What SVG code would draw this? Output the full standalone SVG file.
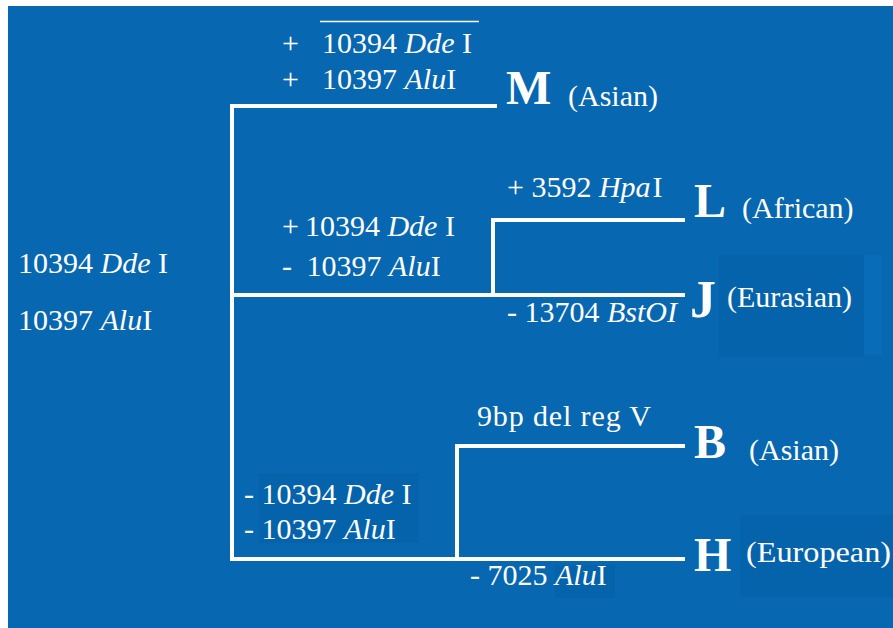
<svg xmlns="http://www.w3.org/2000/svg" width="893" height="628" viewBox="0 0 893 628">
<defs>
<style>
.ln{fill:none;stroke:#ffffff;stroke-width:4;stroke-linecap:square;stroke-linejoin:miter}
.patch{fill:#0563AB}
</style>
</defs>
<rect x="0" y="0" width="893" height="628" fill="#ffffff"/>
<rect x="8" y="6" width="885" height="622" fill="#0767B1"/>
<rect class="patch" x="719" y="255" width="145" height="102"/>
<rect x="864" y="255" width="18" height="100" fill="#096CB8"/>
<rect class="patch" x="259" y="473" width="160" height="70"/>
<rect class="patch" x="740" y="515" width="153" height="82"/>
<rect class="patch" x="555" y="565" width="60" height="33"/>

<g id="connectors">
<path class="ln" d="M495,106 H232 V559 H683"/>
<path class="ln" d="M232,295 H683"/>
<path class="ln" d="M493,295 V220 H683"/>
<path class="ln" d="M457,559 V446 H683"/>
<line x1="320" y1="21.5" x2="479" y2="21.5" stroke="#ffffff" stroke-width="1.5"/>
</g>

<g id="root-labels" font-family="Liberation Serif" font-size="30" fill="#ffffff">
<text x="18" y="273">10394 <tspan font-style="italic">Dde</tspan> I</text>
<text x="18" y="330">10397 <tspan font-style="italic">Alu</tspan>I</text>
</g>

<g id="edge-labels" font-family="Liberation Serif" font-size="30" fill="#ffffff">
<text x="282" y="53">+</text>
<text x="322" y="53">10394 <tspan font-style="italic">Dde</tspan> I</text>
<text x="282" y="89">+</text>
<text x="322" y="89">10397 <tspan font-style="italic">Alu</tspan>I</text>
<text x="282" y="236">+<tspan dx="6">10394 </tspan><tspan font-style="italic">Dde</tspan> I</text>
<text x="282" y="276">- <tspan dx="7">10397 </tspan><tspan font-style="italic">Alu</tspan>I</text>
<text x="507" y="197">+ 3592 <tspan font-style="italic">Hpa</tspan><tspan dx="2">I</tspan></text>
<text x="507" y="322">- 13704 <tspan font-style="italic">BstOI</tspan></text>
<text x="477" y="426" textLength="174" lengthAdjust="spacing">9bp del reg V</text>
<text x="244" y="504">- 10394 <tspan font-style="italic">Dde</tspan> I</text>
<text x="244" y="539">- 10397 <tspan font-style="italic">Alu</tspan>I</text>
<text x="470" y="585">- 7025 <tspan font-style="italic">Alu</tspan>I</text>
</g>

<g font-family="Liberation Serif" fill="#ffffff">
<g id="node-M">
<text x="506" y="104" font-size="48" font-weight="bold">M</text>
<text x="568" y="106" font-size="30">(Asian)</text>
</g>
<g id="node-L">
<text x="694" y="217" font-size="48" font-weight="bold">L</text>
<text x="742" y="218" font-size="30">(African)</text>
</g>
<g id="node-J">
<text x="690" y="317" font-size="52" font-weight="bold">J</text>
<text x="727" y="307" font-size="30">(Eurasian)</text>
</g>
<g id="node-B">
<text x="694" y="458" font-size="48" font-weight="bold">B</text>
<text x="749" y="460" font-size="30">(Asian)</text>
</g>
<g id="node-H">
<text x="694" y="571" font-size="48" font-weight="bold">H</text>
<text x="746" y="562" font-size="30" textLength="145" lengthAdjust="spacingAndGlyphs">(European)</text>
</g>
</g>
</svg>
